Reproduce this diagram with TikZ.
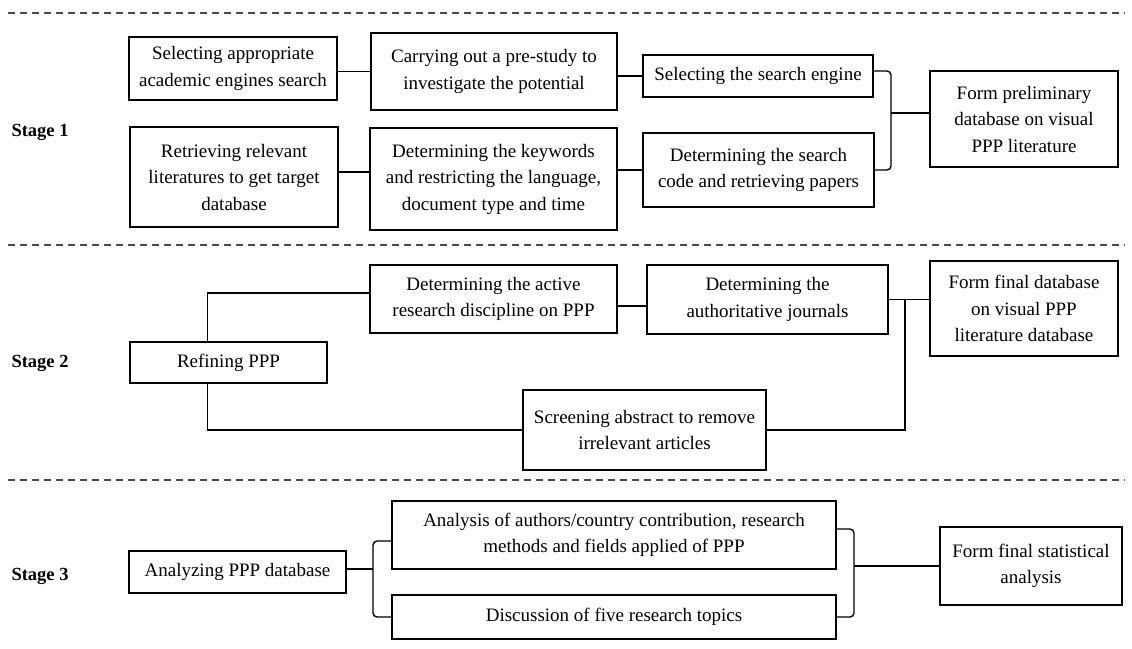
\documentclass[tikz,border=0pt]{standalone}
\usepackage{fontspec}
\setmainfont{Liberation Serif}
\begin{document}
\begin{tikzpicture}[x=1pt,y=-1pt,
  box/.style={draw=black, line width=1.6pt, align=center, inner sep=2pt,
              font=\fontsize{19}{26.5}\selectfont},
  link/.style={draw=black, line width=1.4pt},
  bracket/.style={link, rounded corners=4pt},
  sep/.style={draw=black!70, line width=1.4pt, dash pattern=on 7pt off 5pt},
  stagelbl/.style={font=\fontsize{18.5}{22}\selectfont\bfseries, anchor=west}]
\useasboundingbox (0,0) rectangle (1132,648);

% stage separators
\draw[sep] (8,13) -- (1125,13);
\draw[sep] (8,245) -- (1125,245);
\draw[sep] (8,480) -- (1125,480);

% stage labels
\node[stagelbl] (st1) at (8,132) {Stage 1};
\node[stagelbl] (st2) at (8,363) {Stage 2};
\node[stagelbl] (st3) at (8,576) {Stage 3};

% ---------- Stage 1 ----------
\node[box, minimum width=208pt, minimum height=63pt] (a) at (233,68.5)
  {Selecting appropriate\\academic engines search};
\node[box, minimum width=246pt, minimum height=77pt] (b) at (494,71.5)
  {Carrying out a pre-study to\\investigate the potential};
\node[box, minimum width=230pt, minimum height=42pt] (e) at (758,76)
  {Selecting the search engine};
\node[box, minimum width=208pt, minimum height=100pt] (c) at (234,177)
  {Retrieving relevant\\literatures to get target\\database};
\node[box, minimum width=247pt, minimum height=102pt] (d) at (493.5,179)
  {Determining the keywords\\and restricting the language,\\document type and time};
\node[box, minimum width=231pt, minimum height=74pt] (f) at (758.5,170)
  {Determining the search\\code and retrieving papers};
\node[box, minimum width=188pt, minimum height=96pt] (g) at (1024,119)
  {Form preliminary\\database on visual\\PPP literature};

\draw[link] (b.west) -- (b.west -| a.east);
\draw[link] ([yshift=5pt]c.east) -- ([yshift=5pt]c.east -| d.west);
\draw[link] (e.west) -- (e.west -| b.east);
\draw[link] (f.west) -- (f.west -| d.east);
\coordinate (j1) at (891,113);
\draw[bracket] ([yshift=5pt]e.east) -| (j1) |- (f.east);
\draw[link] (j1) -- (j1 -| g.west);

% ---------- Stage 2 ----------
\node[box, minimum width=197pt, minimum height=41pt] (r) at (228.5,362.5)
  {Refining PPP};
\node[box, minimum width=247pt, minimum height=68pt] (h) at (493.5,299)
  {Determining the active\\research discipline on PPP};
\node[box, minimum width=241pt, minimum height=69pt] (i) at (767.5,299.5)
  {Determining the\\authoritative journals};
\node[box, minimum width=188pt, minimum height=95pt] (j) at (1024,308.5)
  {Form final database\\on visual PPP\\literature database};
\node[box, minimum width=243pt, minimum height=80pt] (s) at (644.5,430)
  {Screening abstract to remove\\irrelevant articles};

\draw[link] ([yshift=6pt]h.west) -| ([xshift=-21pt]r.north);
\draw[link] ([xshift=-21pt]r.south) |- (s.west);
\draw[link] ([yshift=-7pt]h.east) -- ([yshift=-7pt]h.east -| i.west);
\coordinate (j2) at (905,299.5);
\draw[link] (i.east) -- (i.east -| j.west);
\draw[link] (j2) |- (s.east);

% ---------- Stage 3 ----------
\node[box, minimum width=217pt, minimum height=42pt] (p) at (237.5,572)
  {Analyzing PPP database};
\node[box, minimum width=444pt, minimum height=68pt] (k) at (614,535)
  {Analysis of authors/country contribution, research\\methods and fields applied of PPP};
\node[box, minimum width=444pt, minimum height=44pt] (l) at (614,617)
  {Discussion of five research topics};
\node[box, minimum width=182pt, minimum height=78pt] (m) at (1031,566)
  {Form final statistical\\analysis};

\coordinate (j3) at (373,569);
\draw[link] (j3 -| p.east) -- (j3);
\draw[bracket] ([yshift=-6pt]k.west) -| (j3) |- (l.west);
\coordinate (j4) at (854,566);
\draw[bracket] ([yshift=6pt]k.east) -| (j4) |- (l.east);
\draw[link] (j4) -- (j4 -| m.west);
\end{tikzpicture}
\end{document}
